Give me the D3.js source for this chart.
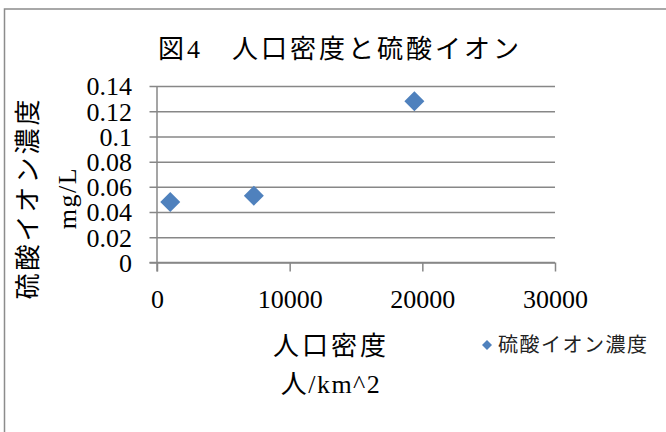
<!DOCTYPE html>
<html>
<head>
<meta charset="utf-8">
<script src="https://cdn.jsdelivr.net/npm/d3@7/dist/d3.min.js"></script>
<style>
  html, body { margin: 0; padding: 0; background: #fff; }
  svg { display: block; }
</style>
</head>
<body>
<svg id="chart" width="666" height="432"></svg>
<script>
// Population density (people/km^2) vs sulfate ion concentration (mg/L)
const density = [1000, 7300, 19400];
const sulfate = [0.048, 0.053, 0.128];
const xTicks = [0, 10000, 20000, 30000];
const yTicks = [0, 0.02, 0.04, 0.06, 0.08, 0.1, 0.12, 0.14];
const seriesName = "硫酸イオン濃度";
const titleText = "図4　人口密度と硫酸イオン";
const xTitle = ["人口密度", "人/km^2"];
const yTitle = ["硫酸イオン濃度", "mg/L"];

const serif = "'Liberation Serif', 'Noto Sans CJK JP', serif";
const sans = "'Noto Sans CJK JP', 'Noto Sans', sans-serif";
const gridColor = "#878787";
const markColor = "#4F81BD";
// wider tracking for full-width (CJK) lines, lighter for Latin ones
const tracking = s => (/[a-zA-Z]/.test(s) ? 1.5 : 3);

const svg = d3.select("#chart");

// chart frame
svg.append("rect")
  .attr("x", 4.5).attr("y", 9)
  .attr("width", 700).attr("height", 500)
  .attr("fill", "#fff")
  .attr("stroke", "#8c8c8c").attr("stroke-width", 1.5);

const x = d3.scaleLinear().domain([0, 30000]).range([157, 555]);
const y = d3.scaleLinear().domain([0, 0.14]).range([262.5, 86]);

// horizontal gridlines with outer tick marks
const yAxis = d3.axisLeft(y)
  .tickValues(yTicks)
  .tickSize(-(x.range()[1] - x.range()[0]))
  .tickSizeOuter(0)
  .tickPadding(25)
  .tickFormat(d => String(d));
const gy = svg.append("g")
  .attr("transform", `translate(${x(0)},0)`)
  .call(yAxis);
gy.select(".domain").remove();
gy.selectAll(".tick line")
  .attr("x1", -7.5)
  .attr("stroke", gridColor).attr("stroke-width", 1.5);
gy.selectAll(".tick text")
  .attr("font-family", serif).attr("font-size", 26)
  .attr("fill", "#000").attr("dy", "0.34em");

// x axis
const xAxis = d3.axisBottom(x)
  .tickValues(xTicks)
  .tickSize(9)
  .tickSizeOuter(0)
  .tickPadding(18)
  .tickFormat(d3.format("d"));
const gx = svg.append("g")
  .attr("transform", `translate(0,${y(0)})`)
  .call(xAxis);
gx.select(".domain").attr("stroke", gridColor).attr("stroke-width", 1.5)
  .attr("d", `M${x(0) - 7.5},0H${x(30000)}`);
gx.selectAll(".tick line").attr("stroke", gridColor).attr("stroke-width", 1.5);
gx.selectAll(".tick text")
  .attr("font-family", serif).attr("font-size", 26)
  .attr("fill", "#000").attr("dy", "0.71em");

// vertical value axis line
svg.append("line")
  .attr("x1", x(0)).attr("x2", x(0))
  .attr("y1", y(0.14)).attr("y2", y(0) + 9)
  .attr("stroke", gridColor).attr("stroke-width", 1.5);

// data points
const diamond = d3.symbol().type(d3.symbolSquare).size(200);
svg.append("g").selectAll("path")
  .data(density.map((d, i) => ({ x: d, y: sulfate[i] })))
  .join("path")
  .attr("d", diamond)
  .attr("transform", d => `translate(${x(d.x)},${y(d.y)}) rotate(45)`)
  .attr("fill", markColor);

// title
svg.append("text")
  .attr("x", 340).attr("y", 58)
  .attr("text-anchor", "middle")
  .attr("font-family", serif).attr("font-size", 26)
  .attr("letter-spacing", 3)
  .text(titleText);

// x axis title
svg.append("g").selectAll("text")
  .data(xTitle)
  .join("text")
  .attr("x", 331)
  .attr("y", (d, i) => 355 + i * 38)
  .attr("text-anchor", "middle")
  .attr("font-family", serif).attr("font-size", 26)
  .attr("letter-spacing", d => tracking(d))
  .text(d => d);

// y axis title (rotated)
svg.append("g").selectAll("text")
  .data(yTitle)
  .join("text")
  .attr("transform", (d, i) => `translate(${37 + i * 39},198) rotate(-90)`)
  .attr("text-anchor", "middle")
  .attr("font-family", serif).attr("font-size", 26)
  .attr("letter-spacing", d => tracking(d))
  .text(d => d);

// legend
const legend = svg.append("g").attr("transform", "translate(487,345)");
legend.append("path")
  .attr("d", d3.symbol().type(d3.symbolSquare).size(50))
  .attr("transform", "rotate(45)")
  .attr("fill", markColor);
legend.append("text")
  .attr("x", 11).attr("y", 0).attr("dy", "0.35em")
  .attr("font-family", sans).attr("font-size", 20)
  .attr("letter-spacing", 1.5)
  .attr("fill", "#222")
  .text(seriesName);
</script>
</body>
</html>
